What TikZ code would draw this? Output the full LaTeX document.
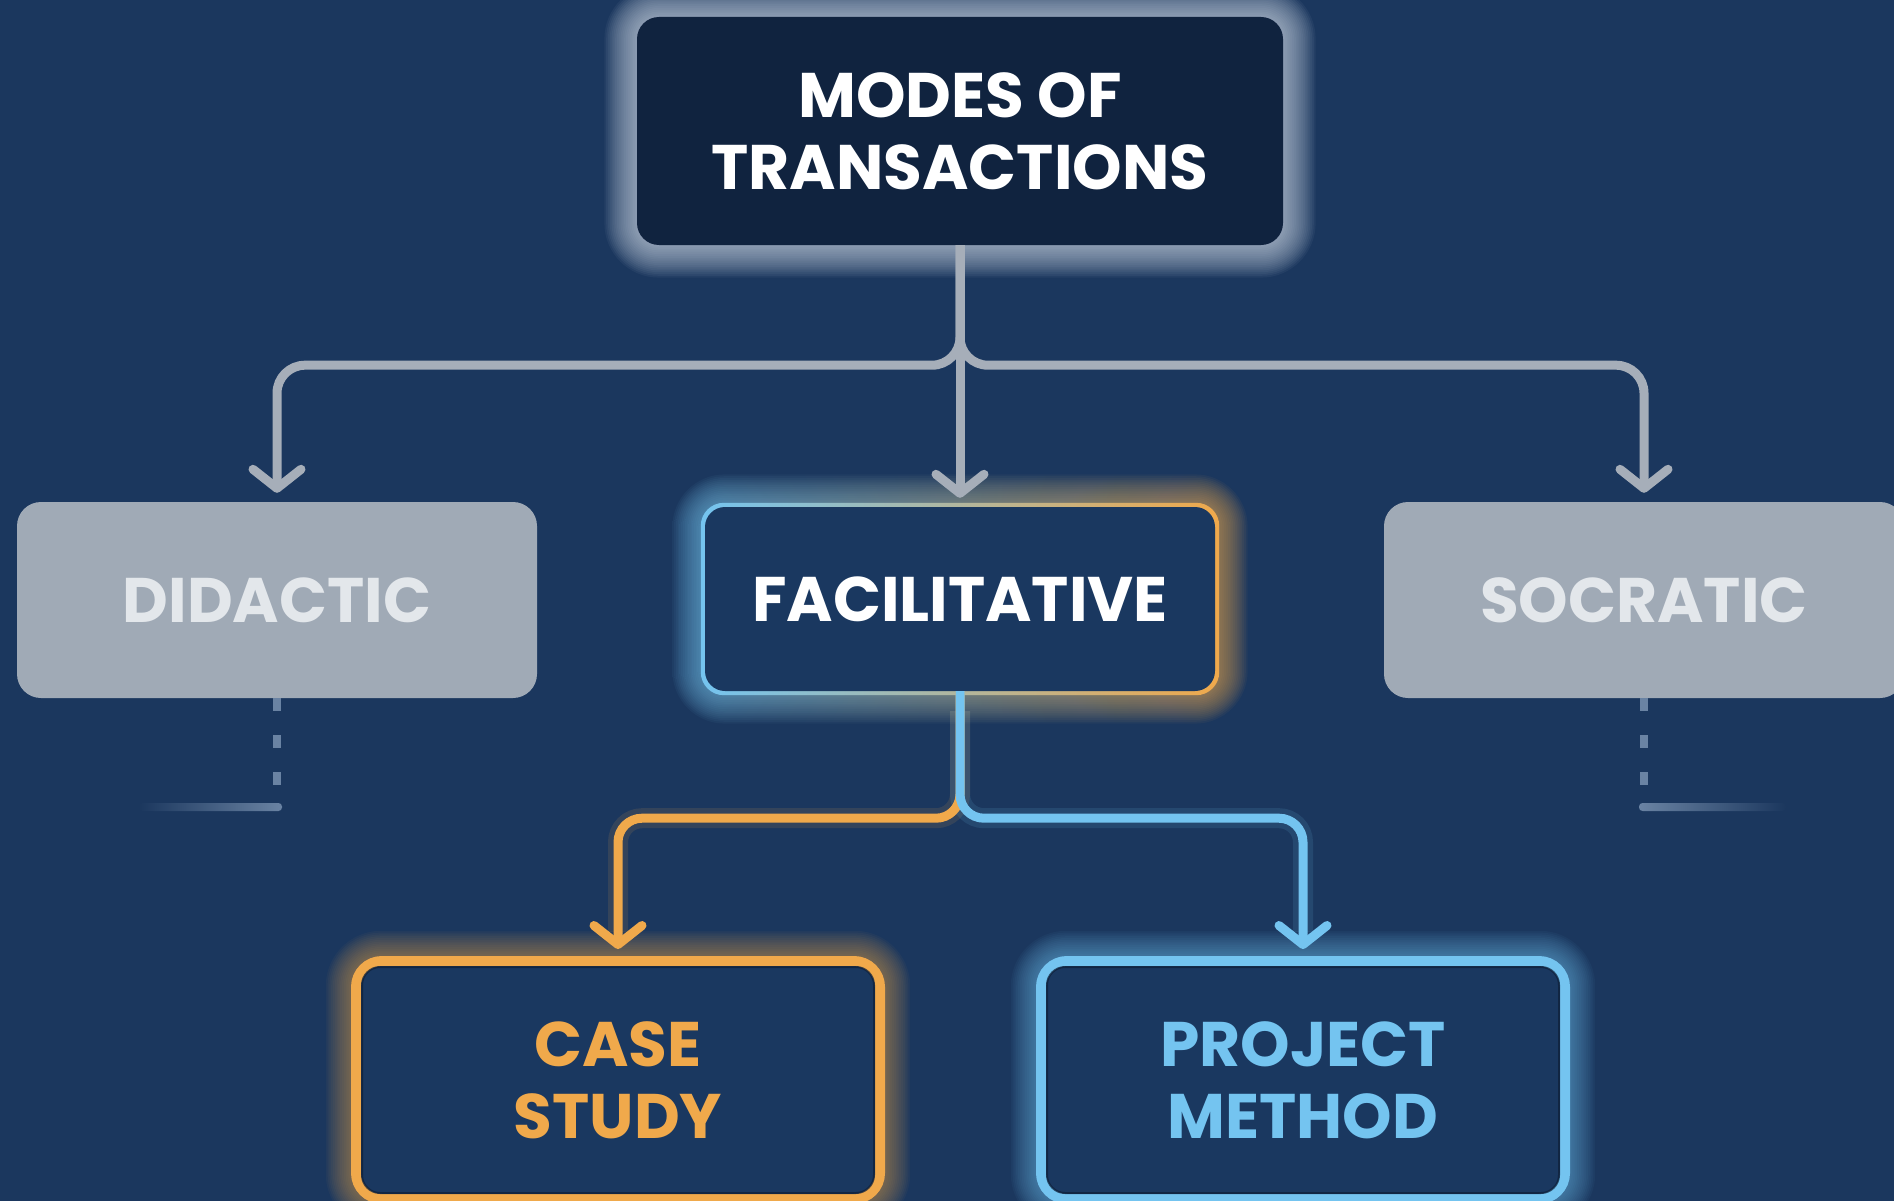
\documentclass[tikz,border=0pt]{standalone}
\usepackage{fontspec}
\setmainfont{Poppins}
\usetikzlibrary{arrows.meta,calc}
\definecolor{bg}{HTML}{1B375E}
\definecolor{topfill}{HTML}{10233F}
\definecolor{midfill}{HTML}{1A3860}
\definecolor{greyfill}{HTML}{A0AAB6}
\definecolor{greytext}{HTML}{E3E7EB}
\definecolor{greyline}{HTML}{A6AEB9}
\definecolor{orng}{HTML}{F0A94B}
\definecolor{blu}{HTML}{74C4F0}
\definecolor{glowwhite}{HTML}{D0DAE6}
\definecolor{dashcol}{HTML}{6A83A3}
\definecolor{inedge}{HTML}{0E1F38}
\pgfdeclarelayer{back}
\pgfdeclarelayer{glow}
\pgfsetlayers{back,glow,main}
\newcommand\glowrect[5]{%
  \foreach \i in {1,...,#4}{%
    \pgfmathsetmacro\rr{#3+\i*1.8}%
    \path[#2, opacity=#5, rounded corners=\rr pt]
      ($(#1.north west)+(-\i*1.8,-\i*1.8)$) rectangle ($(#1.south east)+(\i*1.8,\i*1.8)$);
  }}
\begin{document}
\begin{tikzpicture}[x=1pt,y=-1pt,
  lbl/.style={font=\fontsize{63}{72}\selectfont\bfseries, align=center, inner sep=0pt},
  topbox/.style={lbl, fill=topfill, text=white, rounded corners=22pt, minimum width=646pt, minimum height=228pt},
  greybx/.style={lbl, fill=greyfill, text=greytext, rounded corners=24pt, minimum width=520pt, minimum height=196pt},
  facbx/.style={lbl, fill=midfill, text=white, rounded corners=20pt, minimum width=510pt, minimum height=184pt},
  leafbx/.style={lbl, fill=midfill, line width=10pt, rounded corners=26pt, minimum width=524pt, minimum height=238pt},
  greyconn/.style={greyline, line width=9pt, rounded corners=28pt, shorten >=9pt,
    -{Straight Barb[length=19pt,width=48pt,round]}},
  colconn/.style={line width=9pt, rounded corners=24pt, shorten >=7pt,
    -{Straight Barb[length=19pt,width=48pt,round]}},
  colglow/.style={line width=20pt, rounded corners=24pt, opacity=0.12, shorten >=24pt},
  dashv/.style={dashcol, line width=8pt, dash pattern=on 13pt off 24pt},
  inner edge/.style={inedge, line width=2pt, opacity=0.7, rounded corners=18pt}
]
\begin{pgfonlayer}{back}
\fill[bg] (0,0) rectangle (1894,1201);
\end{pgfonlayer}
\useasboundingbox (0,0) rectangle (1894,1201);

\node[topbox] (top) at (960,131) {MODES OF\\TRANSACTIONS};
\node[greybx] (did) at (277,600) {DIDACTIC};
\node[facbx] (fac) at (960,599) {FACILITATIVE};
\node[greybx] (soc) at (1644,600) {SOCRATIC};
\node[leafbx, draw=orng, text=orng] (case) at (618,1080) {CASE\\STUDY};
\node[leafbx, draw=blu, text=blu] (proj) at (1303,1080) {PROJECT\\METHOD};
% thin dark inner edge of the leaf boxes
\draw[inner edge] ($(case.north west)+(11,11)$) rectangle ($(case.south east)+(-11,-11)$);
\draw[inner edge] ($(proj.north west)+(11,11)$) rectangle ($(proj.south east)+(-11,-11)$);

\begin{pgfonlayer}{glow}
\glowrect{top}{fill=glowwhite}{22}{18}{0.055}
\glowrect{fac}{left color=blu,right color=orng}{20}{18}{0.05}
\glowrect{case}{fill=orng}{30}{14}{0.04}
\glowrect{proj}{fill=blu}{30}{14}{0.045}
\shade[left color=blu, right color=orng, rounded corners=23pt]
  ($(fac.north west)+(-4,-4)$) rectangle ($(fac.south east)+(4,4)$);
\end{pgfonlayer}

% grey connectors
\draw[greyconn] (top.south) -- ++(0,120) -| (did.north);
\draw[greyconn] (top.south) -- ++(0,120) -| (soc.north);
\draw[greyconn] (top.south) -- (fac.north);

% coloured connectors
\draw[colglow, orng] (fac.south) ++(0,20) -- ++(0,107) -| (case.north);
\draw[colglow, blu] (fac.south) ++(0,20) -- ++(0,107) -| (proj.north);
\draw[colconn, orng] (fac.south) -- ++(0,127) -| (case.north);
\draw[colconn, blu] (fac.south) -- ++(0,127) -| (proj.north);

% faded stubs
\coordinate (dl) at (139,807);
\coordinate (dr) at (282,807);
\coordinate (sl) at (1639,807);
\coordinate (sr) at (1786,807);
\draw[dashv] (did.south) -- ++(0,92);
\draw[dashv] (soc.south) -- ++(0,92);
\shade[left color=bg, right color=dashcol, rounded corners=3.5pt] ($(dl)+(0,-4)$) rectangle ($(dr)+(0,4)$);
\shade[left color=dashcol, right color=bg, rounded corners=3.5pt] ($(sl)+(0,-4)$) rectangle ($(sr)+(0,4)$);
\end{tikzpicture}
\end{document}
